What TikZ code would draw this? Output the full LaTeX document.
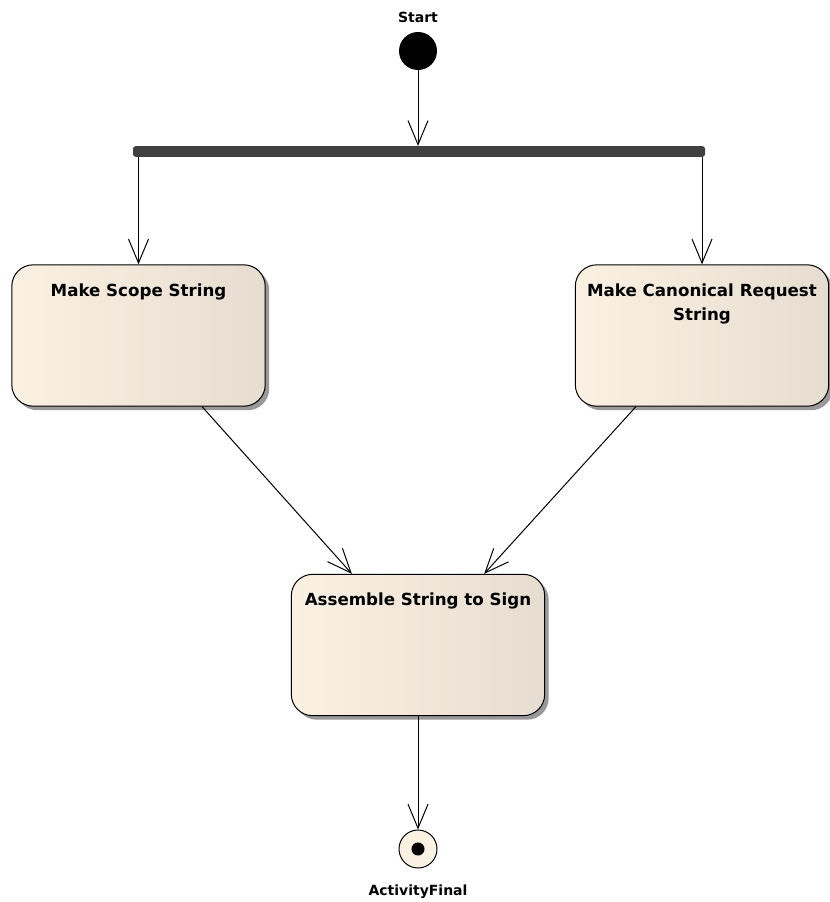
\documentclass[tikz,border=0pt]{standalone}
\usepackage{fontspec}
\setmainfont{DejaVu Sans}
\usetikzlibrary{arrows.meta,shadows,calc}
\definecolor{beigeclair}{RGB}{251,241,227}
\definecolor{beigefonce}{RGB}{230,221,208}
\definecolor{barre}{RGB}{64,64,64}

\begin{document}
\begin{tikzpicture}[x=0.75pt,y=-0.75pt,
  action/.style={draw, line width=0.75pt, rounded corners=16pt, minimum width=190pt, minimum height=106pt,
    left color=beigeclair, right color=beigefonce,
    drop shadow={shadow xshift=3pt, shadow yshift=-3pt, fill=black!40, opacity=1}},
  titre/.style={anchor=north, yshift=-11pt, align=center, font=\fontsize{12.5}{18}\selectfont\bfseries},
  etiquette/.style={font=\fontsize{10.5}{12}\selectfont\bfseries},
  flux/.style={-{Straight Barb[length=18pt,width=15pt]}, line width=0.75pt}]
  \useasboundingbox (0,0) rectangle (830,902);

  % Noeud initial et barre de fourche
  \node[circle, fill=black, minimum size=28.5pt, inner sep=0pt,
    label={[etiquette, label distance=3.5pt]above:Start}] (depart) at (418,51) {};
  \node[fill=barre, minimum width=429pt, minimum height=8pt, inner sep=0pt, rounded corners=2pt] (fourche) at (419,151.5) {};

  % Activites
  \node[action, label={[titre]north:Make Scope String}] (portee) at (138.5,335.5) {};
  \node[action, label={[titre]north:Make Canonical Request\\String}] (canon) at (702,335.5) {};
  \node[action, label={[titre]north:Assemble String to Sign}] (assemble) at (418,645) {};

  % Noeud final
  \node[circle, draw, line width=0.75pt, fill=beigeclair, minimum size=28.5pt, inner sep=0pt,
    path picture={\fill[black] (path picture bounding box.center) circle (4.9pt);},
    label={[etiquette, label distance=9pt]below:ActivityFinal}] (fin) at (418,849) {};

  % Transitions
  \draw[flux] (depart) -- (depart |- fourche.north);
  \draw[flux] (portee.north |- fourche.south) -- (portee.north);
  \draw[flux] (canon.north |- fourche.south) -- (canon.north);
  \draw[flux] ($(portee.south)!0.5!(portee.south east)$) -- ($(assemble.north)!0.52!(assemble.north west)$);
  \draw[flux] ($(canon.south)!0.52!(canon.south west)$) -- ($(assemble.north)!0.52!(assemble.north east)$);
  \draw[flux] (assemble) -- (fin);
\end{tikzpicture}
\end{document}
